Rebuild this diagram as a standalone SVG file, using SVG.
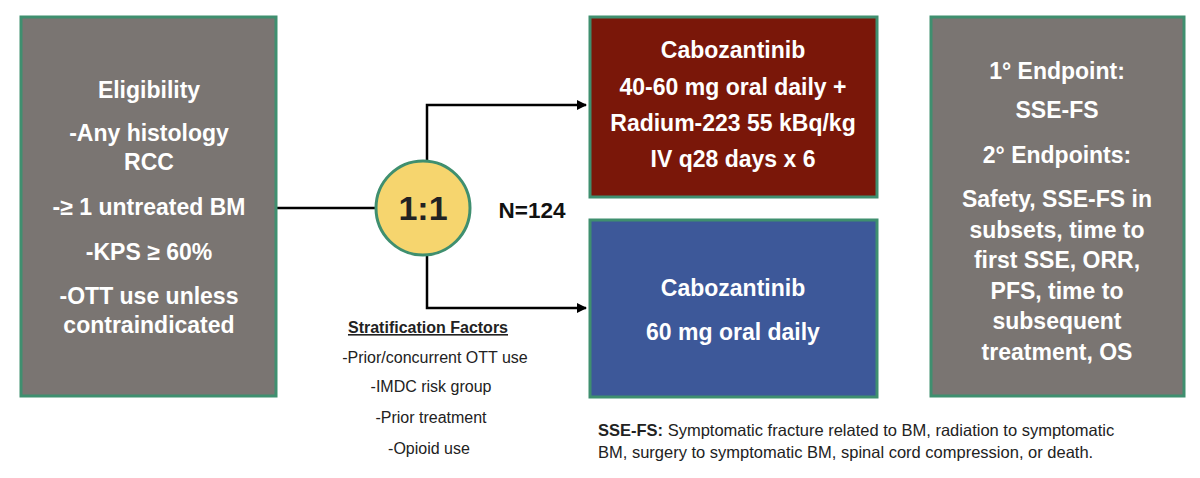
<svg xmlns="http://www.w3.org/2000/svg" width="1200" height="478" viewBox="0 0 1200 478">
<style>
.box{stroke:#3f8f6f;stroke-width:3}
.w{fill:#fff;font-family:"Liberation Sans",Arial,sans-serif;font-weight:bold;font-size:23px;text-anchor:middle}
.s{fill:#222;font-family:"Liberation Sans",Arial,sans-serif;font-size:16px;text-anchor:middle}
.f{fill:#222;font-family:"Liberation Sans",Arial,sans-serif;font-size:16.5px}
.ln{stroke:#000;stroke-width:2.5;fill:none}
</style>
<defs><marker id="ah" markerWidth="10" markerHeight="10" refX="9" refY="5" orient="auto" markerUnits="userSpaceOnUse"><path d="M0,0 L10,5 L0,10 z" fill="#000"/></marker></defs>
<rect width="1200" height="478" fill="#fff"/>
<g id="connectors">
<line class="ln" x1="277" y1="208" x2="376" y2="208"/>
<path class="ln" d="M427,160 V105 H586" marker-end="url(#ah)"/>
<path class="ln" d="M427,256 V308 H586" marker-end="url(#ah)"/>
</g>
<g id="eligibility">
<rect class="box" x="21" y="17" width="255" height="379" fill="#7a7572"/>
<text class="w" x="149" y="98">Eligibility</text>
<text class="w" x="149" y="141">-Any histology</text>
<text class="w" x="149" y="170">RCC</text>
<text class="w" x="149" y="215">-≥ 1 untreated BM</text>
<text class="w" x="149" y="260">-KPS ≥ 60%</text>
<text class="w" x="149" y="304">-OTT use unless</text>
<text class="w" x="149" y="333">contraindicated</text>
</g>
<g id="randomization">
<circle cx="423" cy="208" r="47" fill="#f6d56e" stroke="#3f8f6f" stroke-width="3"/>
<text x="423" y="220" style="fill:#222;font-family:'Liberation Sans',Arial,sans-serif;font-weight:bold;font-size:34px;text-anchor:middle">1:1</text>
<text x="532" y="218" style="fill:#111;font-family:'Liberation Sans',Arial,sans-serif;font-weight:bold;font-size:22.5px;text-anchor:middle">N=124</text>
</g>
<g id="stratification">
<text x="428" y="333" style="fill:#222;font-family:'Liberation Sans',Arial,sans-serif;font-weight:bold;font-size:16px;text-anchor:middle;text-decoration:underline">Stratification Factors</text>
<text class="s" x="435" y="363">-Prior/concurrent OTT use</text>
<text class="s" x="431" y="392">-IMDC risk group</text>
<text class="s" x="431" y="423">-Prior treatment</text>
<text class="s" x="429" y="454">-Opioid use</text>
</g>
<g id="arm1">
<rect class="box" x="590" y="17" width="287" height="180" fill="#7a1709"/>
<text class="w" x="733" y="58">Cabozantinib</text>
<text class="w" x="733" y="95">40-60 mg oral daily +</text>
<text class="w" x="733" y="131">Radium-223 55 kBq/kg</text>
<text class="w" x="733" y="167">IV q28 days x 6</text>
</g>
<g id="arm2">
<rect class="box" x="590" y="220" width="287" height="177" fill="#3d5899"/>
<text class="w" x="733" y="296">Cabozantinib</text>
<text class="w" x="733" y="340">60 mg oral daily</text>
</g>
<g id="endpoints">
<rect class="box" x="931" y="17" width="253" height="379" fill="#7a7572"/>
<text class="w" x="1057" y="79">1° Endpoint:</text>
<text class="w" x="1057" y="118">SSE-FS</text>
<text class="w" x="1057" y="163">2° Endpoints:</text>
<text class="w" x="1057" y="207">Safety, SSE-FS in</text>
<text class="w" x="1057" y="238">subsets, time to</text>
<text class="w" x="1057" y="268">first SSE, ORR,</text>
<text class="w" x="1057" y="299">PFS, time to</text>
<text class="w" x="1057" y="329">subsequent</text>
<text class="w" x="1057" y="360">treatment, OS</text>
</g>
<g id="footnote">
<text class="f" x="598" y="436"><tspan font-weight="bold">SSE-FS:</tspan> Symptomatic fracture related to BM, radiation to symptomatic</text>
<text class="f" x="598" y="458">BM, surgery to symptomatic BM, spinal cord compression, or death.</text>
</g>
</svg>
